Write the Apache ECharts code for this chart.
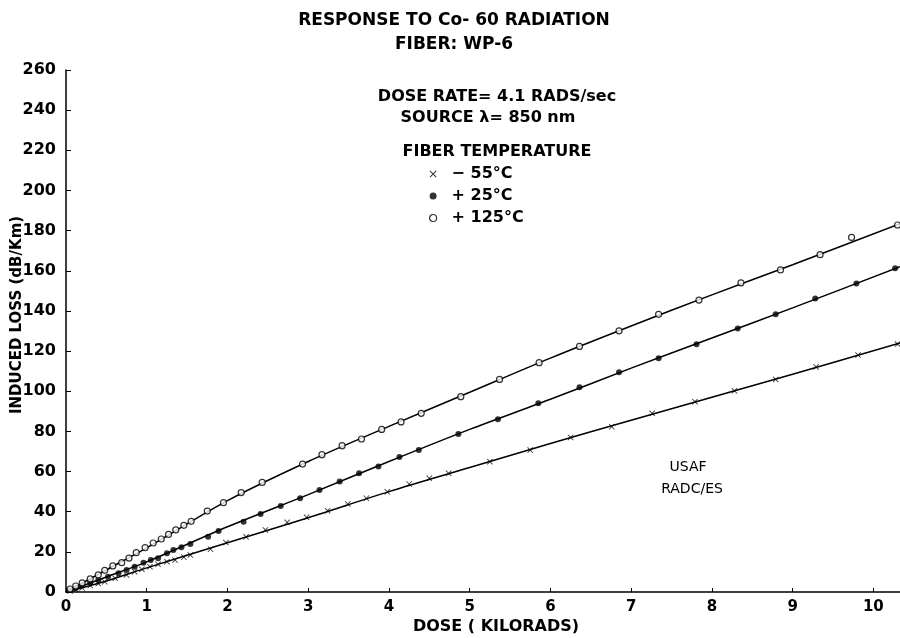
<!DOCTYPE html>
<html>
<head>
<meta charset="utf-8">
<script src="https://cdn.jsdelivr.net/npm/echarts@6/dist/echarts.min.js"></script>
<style>
  html, body { margin: 0; padding: 0; background: #fff; }
  #chart { width: 900px; height: 638px; }
</style>
</head>
<body>
<div id="chart"></div>
<script>
// axis ticks
var xTicks = [0, 1, 2, 3, 4, 5, 6, 7, 8, 9, 10];
var yTicks = [0, 20, 40, 60, 80, 100, 120, 140, 160, 180, 200, 220, 240, 260];

var seriesNames = ["\u2212 55\u00b0C", "+ 25\u00b0C", "+ 125\u00b0C"];

// measured points (dose krad, loss dB/km)
var pointsCold = [[0.05,0.5],[0.12,1.2],[0.2,2],[0.3,3.2],[0.4,4.2],[0.48,5.1],[0.61,6.8],[0.75,8.5],[0.85,10.1],[0.94,11.3],[1.04,12.6],[1.14,13.8],[1.25,15.1],[1.35,15.9],[1.46,17.3],[1.54,18.4],[1.79,21.3],[1.98,24.6],[2.23,27.5],[2.47,30.9],[2.74,34.7],[2.98,37.2],[3.24,40.5],[3.49,43.8],[3.72,46.7],[3.98,49.9],[4.25,53.8],[4.5,56.6],[4.74,59.1],[5.25,64.9],[5.75,70.7],[6.25,77],[6.76,82.3],[7.26,89],[7.79,94.8],[8.28,100.2],[8.79,105.9],[9.29,112.1],[9.81,118],[10.3,123.5]];
var pointsRoom = [[0.05,1],[0.12,2],[0.2,3.2],[0.3,4.8],[0.4,6],[0.52,7.6],[0.65,9.3],[0.75,11],[0.85,12.6],[0.96,14.6],[1.05,15.9],[1.14,16.8],[1.25,19.3],[1.33,20.9],[1.43,22.3],[1.54,23.9],[1.76,27.5],[1.89,30.4],[2.2,35],[2.41,38.8],[2.66,42.8],[2.9,46.7],[3.14,50.8],[3.39,55.1],[3.63,59.1],[3.87,62.5],[4.13,67.2],[4.37,70.7],[4.86,78.7],[5.35,86],[5.85,94],[6.36,102],[6.85,109.4],[7.34,116.4],[7.81,123.4],[8.32,131.3],[8.79,138.3],[9.28,146.2],[9.79,153.7],[10.27,161.2]];
var pointsHot = [[0.05,1.5],[0.12,3],[0.2,4.5],[0.3,6.5],[0.4,8.5],[0.48,10.8],[0.58,13],[0.69,14.6],[0.78,16.9],[0.87,19.6],[0.98,22.1],[1.08,24.4],[1.18,26.4],[1.27,28.7],[1.36,30.9],[1.46,33.2],[1.55,35.2],[1.75,40.3],[1.95,44.5],[2.17,49.5],[2.43,54.6],[2.93,63.7],[3.17,68.4],[3.42,72.9],[3.66,76.2],[3.91,81],[4.15,84.7],[4.4,89],[4.89,97.3],[5.37,105.9],[5.86,114.2],[6.36,122.3],[6.85,130.1],[7.34,138.3],[7.84,145.4],[8.36,154],[8.85,160.4],[9.34,168],[9.73,176.6],[10.3,182.8]];

// drawn fit curves
var fitCold = [[0,0],[0.5,5.5],[1,12],[2,24.5],[3,37],[4,50],[5,62],[6,74],[7,85.5],[8,97],[9,108.5],[10.33,124]];
var fitRoom = [[0,0],[0.5,7.5],[1,15],[2,32.5],[3,48.5],[4,65],[5,81],[6,96],[7,111.5],[8,126.5],[9,141.5],[10.33,162]];
var fitHot = [[0,0],[0.5,11],[1,22],[2,45.5],[3,65],[4,82.5],[5,99.5],[6,116.5],[7,132.5],[8,148],[9,163],[10.33,183.5]];

var crossPath = 'path://M0,1 L1,0 L5,4 L9,0 L10,1 L6,5 L10,9 L9,10 L5,6 L1,10 L0,9 L4,5 Z';
var font = '"DejaVu Sans", sans-serif';

var chart = echarts.init(document.getElementById('chart'), null, { renderer: 'canvas' });

var fitLine = function(data){
	return {
		type: 'line',
		data: data,
		smooth: 0.3,
		showSymbol: false,
		silent: true,
		lineStyle: { color: '#000', width: 1.5 },
		z: 2
	};
};

var label = function(text, x, y, size, weight){
	return {
		type: 'text', x: x, y: y,
		style: {
			text: text, fill: '#000',
			font: (weight || 'bold') + ' ' + size + 'px ' + font,
			textAlign: 'center', textVerticalAlign: 'middle'
		}
	};
};

var option = {
	animation: false,
	backgroundColor: '#fff',
	grid: { left: 66, right: 0, top: 70, bottom: 46, containLabel: false, outerBoundsMode: 'none' },
	xAxis: {
		type: 'value',
		min: 0,
		max: 10.33,
		interval: 1,
		axisLine: { lineStyle: { color: '#000', width: 1.5 } },
		axisTick: { inside: true, length: 4, lineStyle: { color: '#000' } },
		splitLine: { show: false },
		axisLabel: {
			color: '#000', fontFamily: font, fontWeight: 'bold', fontSize: 15, margin: 8,
			formatter: function(v){ return xTicks.indexOf(v) >= 0 ? String(v) : ''; }
		}
	},
	yAxis: {
		type: 'value',
		min: 0,
		max: 260,
		interval: 20,
		axisLine: { show: true, lineStyle: { color: '#000', width: 1.5 } },
		axisTick: { show: true, inside: true, length: 5, lineStyle: { color: '#000' } },
		splitLine: { show: false },
		axisLabel: {
			color: '#000', fontFamily: font, fontWeight: 'bold', fontSize: 16, margin: 10,
			formatter: function(v){ return yTicks.indexOf(v) >= 0 ? String(v) : ''; }
		}
	},
	legend: {
		orient: 'vertical',
		left: 424,
		top: 161,
		itemGap: 6,
		itemWidth: 7,
		itemHeight: 7,
		textStyle: { color: '#000', fontFamily: font, fontWeight: 'bold', fontSize: 16, padding: [0, 0, 0, 10] },
		data: [
			{ name: seriesNames[0], icon: crossPath },
			{ name: seriesNames[1], icon: 'circle' },
			{ name: seriesNames[2], icon: 'circle', itemStyle: { color: '#fff', borderColor: '#000', borderWidth: 1.2 } }
		]
	},
	graphic: [
		label('RESPONSE TO Co- 60 RADIATION', 454, 21, 17),
		label('FIBER: WP-6', 454, 45, 17),
		label('DOSE RATE= 4.1 RADS/sec', 497, 97, 16),
		label('SOURCE \u03bb= 850 nm', 488, 118, 16),
		label('FIBER TEMPERATURE', 497, 152, 16),
		label('USAF', 688, 467, 14, 'normal'),
		label('RADC/ES', 692, 489, 14, 'normal'),
		label('DOSE ( KILORADS)', 496, 627, 16),
		{
			type: 'text', x: 17, y: 315, rotation: Math.PI / 2,
			style: {
				text: 'INDUCED LOSS (dB/Km)', fill: '#000', font: 'bold 15px ' + font,
				textAlign: 'center', textVerticalAlign: 'middle'
			}
		}
	],
	series: [
		fitLine(fitCold),
		fitLine(fitRoom),
		fitLine(fitHot),
		{
			name: seriesNames[0], type: 'scatter', data: pointsCold,
			symbol: crossPath, symbolSize: 6,
			itemStyle: { color: '#000' }, z: 3
		},
		{
			name: seriesNames[1], type: 'scatter', data: pointsRoom,
			symbol: 'circle', symbolSize: 6,
			itemStyle: { color: '#000' }, z: 3
		},
		{
			name: seriesNames[2], type: 'scatter', data: pointsHot,
			symbol: 'circle', symbolSize: 6,
			itemStyle: { color: '#fff', borderColor: '#000', borderWidth: 1.2 }, z: 3
		}
	]
};

chart.setOption(option);
</script>
</body>
</html>
